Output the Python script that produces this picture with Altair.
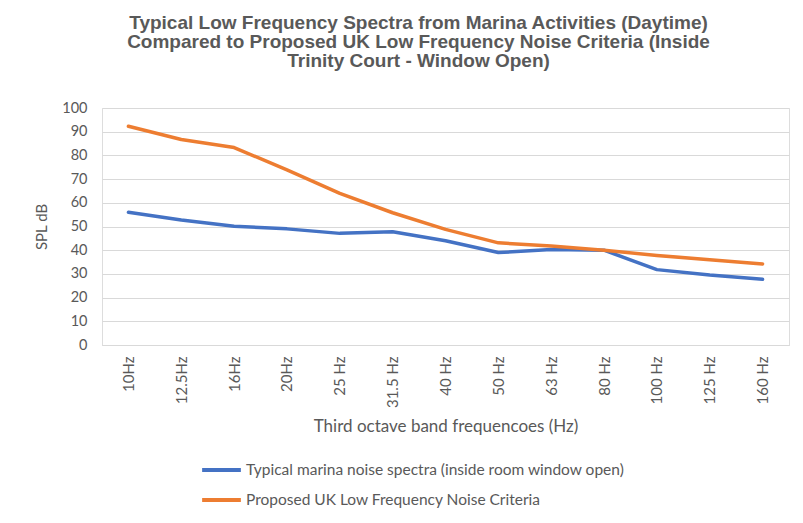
import altair as alt
import pandas as pd

bands = ["10Hz", "12.5Hz", "16Hz", "20Hz", "25 Hz", "31.5 Hz", "40 Hz", "50 Hz",
         "63 Hz", "80 Hz", "100 Hz", "125 Hz", "160 Hz"]
marina = [56, 52.7, 50.1, 49, 47.1, 47.8, 44, 39, 40.3, 40, 31.8, 29.5, 27.7]
criteria = [92.3, 86.7, 83.3, 73.9, 64, 55.8, 48.8, 43.1, 41.8, 40, 37.8, 36, 34.2]
series_names = ["Typical marina noise spectra (inside room window open)",
                "Proposed UK Low Frequency Noise Criteria"]
colors = ["#4472C4", "#ED7D31"]
y_ticks = [0, 10, 20, 30, 40, 50, 60, 70, 80, 90, 100]

rows = []
for b, v in zip(bands, marina):
    rows.append({"band": b, "spl": v, "series": series_names[0]})
for b, v in zip(bands, criteria):
    rows.append({"band": b, "spl": v, "series": series_names[1]})
df = pd.DataFrame(rows)

label_font = "Lato"
grey = "#595959"

chart = alt.Chart(df).mark_line(strokeWidth=3.5, strokeCap="round", strokeJoin="round").encode(
    x=alt.X("band:N", sort=bands,
            scale=alt.Scale(paddingInner=0, paddingOuter=0.5),
            axis=alt.Axis(title="Third octave band frequencoes (Hz)", labelAngle=270,
                          labelAlign="right", labelBaseline="middle", labelPadding=11,
                          ticks=False, domainColor="#D9D9D9", grid=False,
                          labelFont=label_font, labelFontSize=15, labelColor=grey,
                          titleFont=label_font, titleFontSize=17, titleColor=grey,
                          titleFontWeight="normal", titlePadding=11)),
    y=alt.Y("spl:Q", scale=alt.Scale(domain=[0, 100], nice=False),
            axis=alt.Axis(title="SPL dB", values=y_ticks, ticks=False, domain=False,
                          gridColor="#D9D9D9", gridWidth=1, labelPadding=15,
                          labelFont=label_font, labelFontSize=14.5, labelColor=grey,
                          titleFont=label_font, titleFontSize=15, titleColor=grey,
                          titleFontWeight="normal", titlePadding=12)),
    color=alt.Color("series:N", sort=series_names,
                    scale=alt.Scale(domain=series_names, range=colors),
                    legend=alt.Legend(title=None, orient="none", legendX=98, legendY=353,
                                      direction="vertical", symbolType="stroke",
                                      symbolSize=1500, symbolStrokeWidth=4,
                                      clipHeight=18, rowPadding=12, labelLimit=600,
                                      labelFont=label_font, labelFontSize=15.5,
                                      labelColor=grey, labelOffset=3)),
).properties(
    width=687,
    height=237,
    title=alt.TitleParams(
        text=["Typical Low Frequency Spectra from Marina Activities (Daytime)",
              "Compared to Proposed UK Low Frequency Noise Criteria (Inside",
              "Trinity Court  - Window Open)"],
        font="Liberation Sans", fontSize=19, fontWeight="bold", color=grey,
        anchor="middle", dx=-27, offset=29, lineHeight=19),
    autosize=alt.AutoSizeParams(type="none"),
    padding={"left": 94, "top": 100, "right": 6, "bottom": 170},
).configure_view(stroke=None).configure(background="white")

chart.save("out.html", embed_options={"renderer": "svg", "actions": False})
